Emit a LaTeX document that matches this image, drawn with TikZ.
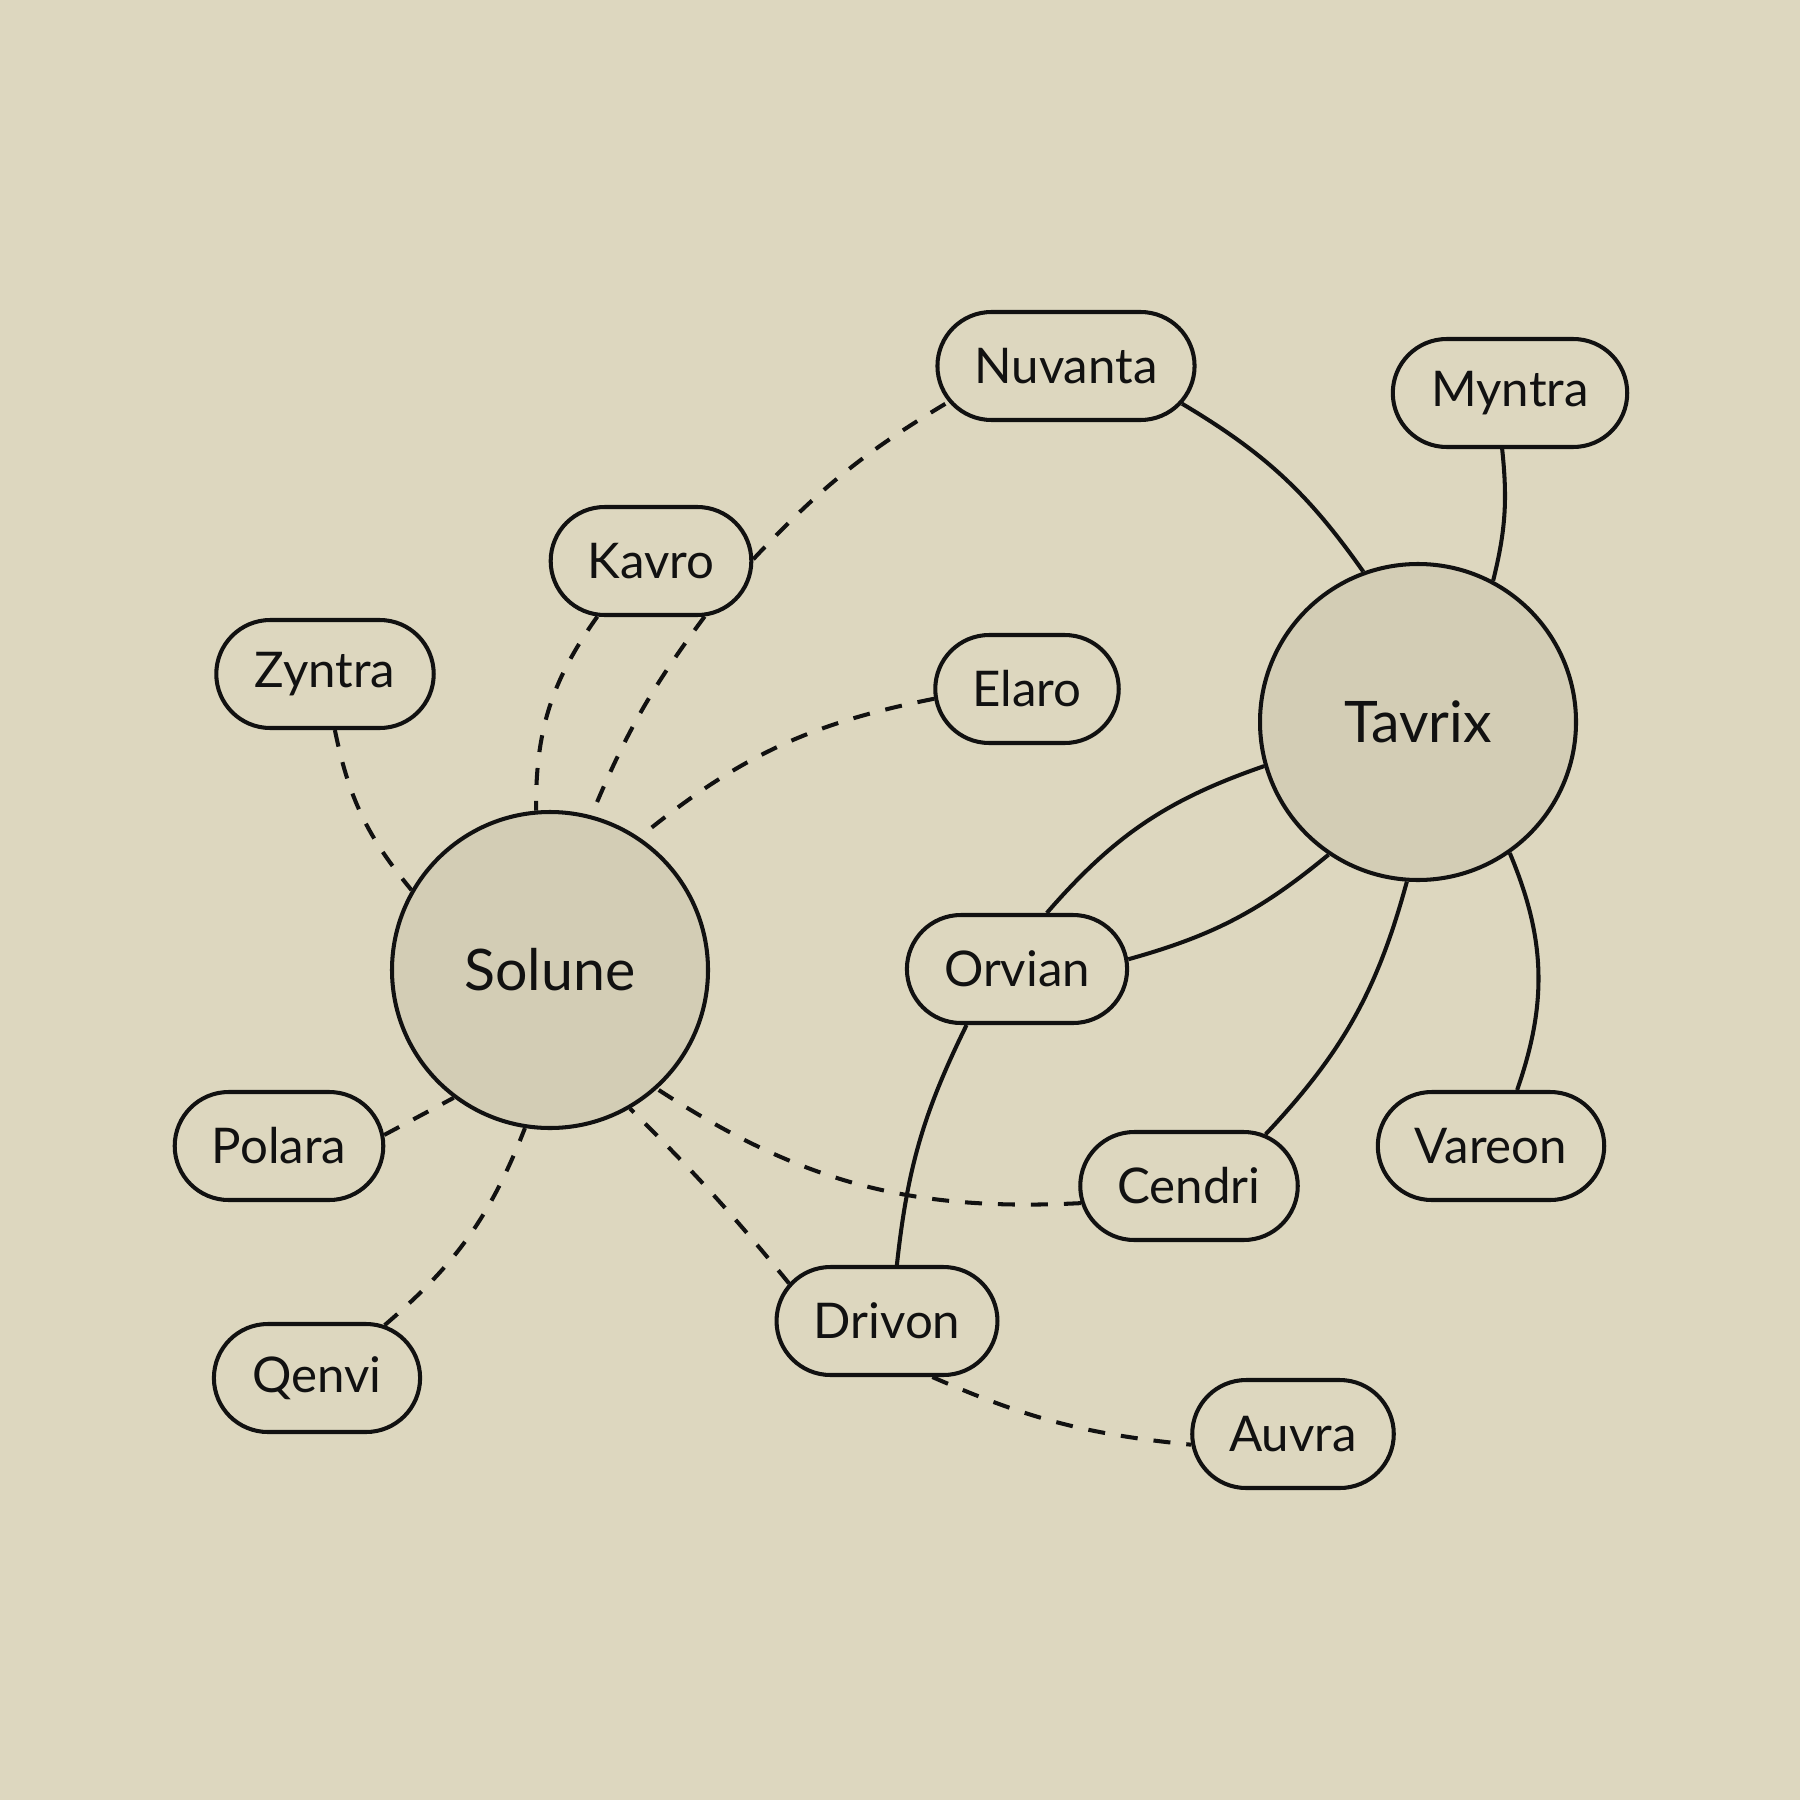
\documentclass[tikz,border=0pt]{standalone}
\usepackage{fontspec}
\setmainfont{Lato}
\usetikzlibrary{shapes.misc}

\definecolor{paper}{HTML}{DDD7BF}
\definecolor{hubfill}{HTML}{D3CDB5}
\definecolor{ink}{HTML}{111111}

\begin{document}
\begin{tikzpicture}[
  x=0.1mm, y=-0.1mm,
  hub/.style={circle, draw=ink, line width=1.15pt, fill=hubfill,
              minimum size=31.6mm, inner sep=0pt, text=ink,
              font=\fontsize{16.3}{18}\selectfont},
  leaf/.style={rounded rectangle, draw=ink, line width=1.15pt, fill=paper,
               minimum height=10.8mm, inner ysep=0pt, inner xsep=3.4mm,
               text=ink, font=\fontsize{14}{16}\selectfont},
  link/.style={draw=ink, line width=1.15pt},
  weak/.style={link, dash pattern=on 1.7mm off 1.6mm}
]
% canvas
\fill[paper] (0,0) rectangle (1800,1800);
\useasboundingbox (0,0) rectangle (1800,1800);

% the two hubs
\node[hub] (sol) at (550,970) {Solune};
\node[hub] (tav) at (1418,722) {Tavrix};

% leaves
\node[leaf] (nuv) at (1066,366) {Nuvanta};
\node[leaf] (myn) at (1510,393) {Myntra};
\node[leaf] (kav) at (651,561) {Kavro};
\node[leaf] (zyn) at (325,674) {Zyntra};
\node[leaf] (ela) at (1027,689) {Elaro};
\node[leaf] (orv) at (1017,969) {Orvian};
\node[leaf] (pol) at (279,1146) {Polara};
\node[leaf] (qen) at (317,1378) {Qenvi};
\node[leaf] (dri) at (887,1321) {Drivon};
\node[leaf] (cen) at (1189,1186) {Cendri};
\node[leaf] (var) at (1491,1146) {Vareon};
\node[leaf] (auv) at (1293,1434) {Auvra};

% solid links
\draw[link] (nuv.-18) to[bend left=12] (tav.110);
\draw[link] (myn.-98) to[bend left=10] (tav.62);
\draw[link] (tav.196) to[bend right=15] (orv.62);
\draw[link] (tav.236) to[bend left=12] (orv.5);
\draw[link] (tav.266) to[bend left=14] (cen.34);
\draw[link] (tav.-55) to[bend left=21] (var.65);
\draw[link] (orv.228) to[bend right=10] (dri.80);

% dashed links
\draw[weak] (kav.1) to[bend left=8] (nuv.197);
\draw[weak] (kav.226) to[bend right=18] (sol.95);
\draw[weak] (kav.-46) to[bend right=7] (sol.75);
\draw[weak] (zyn.-80) to[bend right=14] (sol.150);
\draw[weak] (ela.186) to[bend right=14] (sol.56);
\draw[weak] (pol.6) -- (sol.233);
\draw[weak] (qen.38) to[bend right=14] (sol.261);
\draw[weak] (dri.159) to[bend right=3] (sol.-60);
\draw[weak] (cen.189) to[bend left=18] (sol.-48);
\draw[weak] (dri.-51) to[bend right=9] (auv.186);
\end{tikzpicture}
\end{document}
